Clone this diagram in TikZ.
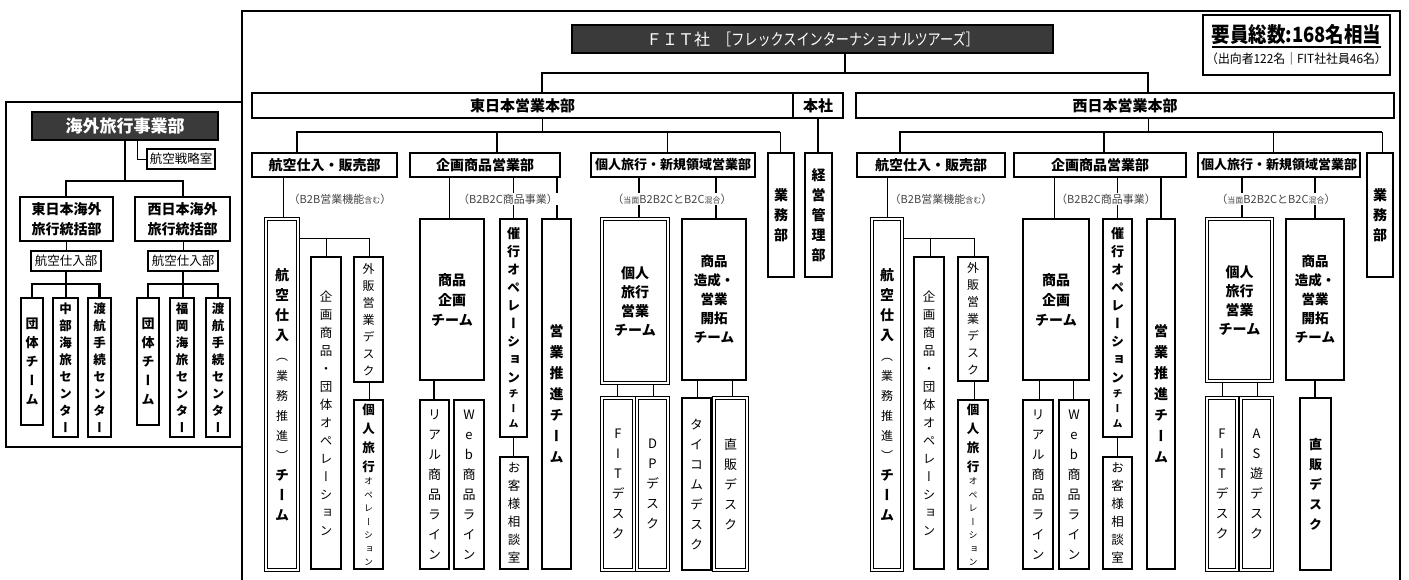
\documentclass[tikz,border=0pt]{standalone}
\usepackage{fontspec}
\usepackage{graphicx}
\usetikzlibrary{backgrounds}
\newfontfamily\jp{Noto Sans CJK JP}
\newfontfamily\jpv[RawFeature=+vert]{Noto Sans CJK JP}
\definecolor{dk}{HTML}{3A3A3A}
\definecolor{lb}{HTML}{444444}
\makeatletter
\def\vs@end{\vs@end}
\newcommand\vsx[1]{\vs@loop#1\vs@end}
\def\vs@loop#1{\ifx\vs@end#1\else\hbox to 0pt{\hss#1\hss}\expandafter\vs@loop\fi}
\makeatother
\newcommand\VB[3]{\vbox{\jpv\bfseries\fontsize{#1}{#2}\selectfont\vsx{#3}}}
\newcommand\VR[3]{\vbox{\jpv\mdseries\fontsize{#1}{#2}\selectfont\vsx{#3}}}
\newcommand\obox[6][]{\pgfmathsetmacro\obw{#4-#2}\pgfmathsetmacro\obh{#5-#3}\pgfmathsetmacro\obx{(#2+#4)/2}\pgfmathsetmacro\oby{(#3+#5)/2}\node[#1, minimum width=\obw pt, minimum height=\obh pt] (#6) at (\obx,\oby)}
\begin{document}
\begin{tikzpicture}[x=1pt,y=-1pt,
 box/.style={draw, line width=2.4pt, fill=white, inner sep=0pt},
 tb/.style={draw, line width=1.6pt, fill=white, inner sep=0pt},
 tbk/.style={draw, line width=2.6pt, fill=white, inner sep=0pt},
 dbx/.style={draw, line width=0.9pt, double=white, double distance=1.5pt, fill=white, inner sep=0pt},
 dark/.style={draw, line width=2.6pt, fill=dk, text=white, inner sep=0pt},
 cT/.style={line width=2.6pt},
 cM/.style={line width=1.8pt},
 cN/.style={line width=1pt},
 h15/.style={font=\jp\bfseries\fontsize{15}{18}\selectfont},
 h14/.style={font=\jp\bfseries\fontsize{14}{20}\selectfont, align=center},
 h13/.style={font=\jp\bfseries\fontsize{13}{16}\selectfont},
 r12/.style={font=\jp\fontsize{12.5}{15}\selectfont},
 lbl/.style={fill=white, inner sep=1pt, text=lb, font=\jp\fontsize{11}{13}\selectfont}]
\useasboundingbox (0,0) rectangle (1409,579);
% frames
\draw[line width=2.4pt] (242,600) -- (242,11) -- (1400,11) -- (1400,600);
\draw[line width=2.4pt] (6,102) rectangle (242,447);

% ---- top
\obox[dark]{572}{25}{1053}{53}{fit} {\jp\fontsize{16}{18}\selectfont ＦＩＴ社\hspace{8pt}\scalebox{0.82}[1]{［フレックスインターナショナルツアーズ］}};
\obox[box, align=center]{1203}{15}{1390}{75}{staff} {{\jp\bfseries\fontsize{21}{24}\selectfont\scalebox{0.88}[1]{\vtop{\hbox{要員総数:168名相当}\kern1pt\hrule height 1.8pt}}}\\[4pt]{\jp\fontsize{12.5}{14}\selectfont\scalebox{0.95}[1]{（出向者122名｜FIT社社員46名）}}};

% ---- row 1
\obox[box, h15]{252}{93}{793}{118}{east} {東日本営業本部};
\obox[box, h15]{793}{93}{843}{118}{hq} {本社};
\obox[box, h15]{856}{93}{1394}{118}{west} {西日本営業本部};

% ---- row 2 east
\obox[box, h14]{252}{153}{397}{177}{ekb} {航空仕入・販売部};
\obox[box, h14]{410}{153}{560}{177}{ekk} {企画商品営業部};
\obox[box, h13]{591}{153}{755}{177}{eko} {個人旅行・新規領域営業部};
\obox[box]{768}{153}{794}{277}{egy} {\VB{14}{20}{業務部}};
\obox[box]{805}{153}{832}{277}{ekm} {\VB{14}{20}{経営管理部}};
% ---- row 2 west
\obox[box, h14]{857}{153}{1005}{177}{wkb} {航空仕入・販売部};
\obox[box, h14]{1014}{153}{1186}{177}{wkk} {企画商品営業部};
\obox[box, h13]{1198}{153}{1360}{177}{wko} {個人旅行・新規領域営業部};
\obox[box]{1367}{153}{1393}{277}{wgy} {\VB{14}{20}{業務部}};

% ---- labels
\node[lbl] (el1) at (340,199) {（B2B営業機能{\fontsize{8}{9}\selectfont 含む}）};
\node[lbl] (el2) at (508,199) {（B2B2C商品事業）};
\node[lbl] (el3) at (672,199) {（{\fontsize{8}{9}\selectfont 当面}B2B2CとB2C{\fontsize{8}{9}\selectfont 混合}）};
\node[lbl] (wl1) at (941,199) {（B2B営業機能{\fontsize{8}{9}\selectfont 含む}）};
\node[lbl] (wl2) at (1106,199) {（B2B2C商品事業）};
\node[lbl] (wl3) at (1276,199) {（{\fontsize{8}{9}\selectfont 当面}B2B2CとB2C{\fontsize{8}{9}\selectfont 混合}）};

% ---- tall boxes east
\obox[dbx]{266}{219}{298}{570}{ekt1} {\vbox{\jpv\bfseries\fontsize{14}{20}\selectfont\vsx{航空仕入}\mdseries\fontsize{12}{20}\selectfont\vsx{（業務推進）}\bfseries\fontsize{14}{20}\selectfont\vsx{チーム}}};
\obox[tb]{311}{257}{341}{569}{ekt2} {\VR{12.5}{18}{企画商品・団体オペレーション}};
\obox[tb]{354}{257}{383}{382}{ekt3} {\VR{12}{17}{外販営業デスク}};
\obox[tb]{354}{400}{383}{569}{ekt4} {\vbox{\jpv\bfseries\fontsize{12.5}{19}\selectfont\vsx{個人旅行}\mdseries\fontsize{9}{13.5}\selectfont\vsx{オペレーション}}};
\obox[tb, h14]{420}{219}{484}{380}{ekt5} {商品\\企画\\チーム};
\obox[tb]{420}{400}{449}{569}{ekt6} {\VR{13}{20}{リアル商品ライン}};
\obox[tb]{454}{400}{484}{569}{ekt7} {\VR{13}{20}{Web商品ライン}};
\obox[tb]{500}{219}{527}{437}{ekt8} {\vbox{\jpv\bfseries\fontsize{13}{18}\selectfont\vsx{催行オペレーション}\fontsize{10}{15}\selectfont\vsx{チーム}}};
\obox[tb]{500}{457}{528}{569}{ekt9} {\VR{12.5}{18}{お客様相談室}};
\obox[tb]{542}{219}{571}{569}{ekt10} {\VB{14}{21}{営業推進チーム}};
\obox[dbx, h14, font=\jp\bfseries\fontsize{14}{19}\selectfont]{602}{219}{668}{383}{ekt11} {個人\\旅行\\営業\\チーム};
\obox[tb, h14, font=\jp\bfseries\fontsize{13.5}{19}\selectfont]{682}{219}{746}{380}{ekt12} {商品\\造成・\\営業\\開拓\\チーム};
\obox[dbx]{602}{398}{634}{570}{ekt13} {\VR{13}{20}{FITデスク}};
\obox[dbx]{637}{398}{668}{570}{ekt14} {\VR{13}{20}{DPデスク}};
\obox[tbk]{682}{398}{711}{570}{ekt15} {\VR{13}{20}{タイコムデスク}};
\obox[dbx]{714}{398}{747}{570}{ekt16} {\VR{13}{20}{直販デスク}};

% ---- tall boxes west
\obox[dbx]{872}{219}{902}{570}{wkt1} {\vbox{\jpv\bfseries\fontsize{14}{20}\selectfont\vsx{航空仕入}\mdseries\fontsize{12}{20}\selectfont\vsx{（業務推進）}\bfseries\fontsize{14}{20}\selectfont\vsx{チーム}}};
\obox[tb]{914}{257}{944}{569}{wkt2} {\VR{12.5}{18}{企画商品・団体オペレーション}};
\obox[tb]{958}{257}{988}{381}{wkt3} {\VR{12}{17}{外販営業デスク}};
\obox[tb]{958}{400}{988}{569}{wkt4} {\vbox{\jpv\bfseries\fontsize{12.5}{19}\selectfont\vsx{個人旅行}\mdseries\fontsize{9}{13.5}\selectfont\vsx{オペレーション}}};
\obox[tb, h14]{1023}{219}{1089}{380}{wkt5} {商品\\企画\\チーム};
\obox[tb]{1023}{400}{1053}{569}{wkt6} {\VR{13}{20}{リアル商品ライン}};
\obox[tb]{1059}{400}{1089}{569}{wkt7} {\VR{13}{20}{Web商品ライン}};
\obox[tb]{1103}{219}{1132}{437}{wkt8} {\vbox{\jpv\bfseries\fontsize{13}{18}\selectfont\vsx{催行オペレーション}\fontsize{10}{15}\selectfont\vsx{チーム}}};
\obox[tb]{1103}{457}{1132}{569}{wkt9} {\VR{12.5}{18}{お客様相談室}};
\obox[tb]{1147}{219}{1175}{569}{wkt10} {\VB{14}{21}{営業推進チーム}};
\obox[dbx, h14, font=\jp\bfseries\fontsize{14}{19}\selectfont]{1207}{219}{1272}{381}{wkt11} {個人\\旅行\\営業\\チーム};
\obox[tb, h14, font=\jp\bfseries\fontsize{13.5}{19}\selectfont]{1286}{219}{1344}{380}{wkt12} {商品\\造成・\\営業\\開拓\\チーム};
\obox[dbx]{1207}{398}{1237}{570}{wkt13} {\VR{13}{20}{FITデスク}};
\obox[dbx]{1241}{398}{1272}{570}{wkt14} {\VR{13}{20}{AS遊デスク}};
\obox[tbk]{1300}{398}{1331}{570}{wkt15} {\VB{13}{20}{直販デスク}};

% ---- left division
\obox[dark, font=\jp\bfseries\fontsize{17}{20}\selectfont]{32}{112}{218}{140}{ovs} {海外旅行事業部};
\obox[box, line width=2pt, r12]{147}{149}{215}{169}{kss} {航空戦略室};
\obox[box, h14]{20}{197}{113}{241}{ehq} {東日本海外\\旅行統括部};
\obox[box, h14]{135}{197}{230}{241}{whq} {西日本海外\\旅行統括部};
\obox[box, line width=2pt, r12]{31}{251}{101}{271}{ekp} {航空仕入部};
\obox[box, line width=2pt, r12]{148}{251}{218}{271}{wkp} {航空仕入部};
\obox[tb, line width=1.2pt]{21}{298}{43}{425}{et1} {\VB{13}{19}{団体チーム}};
\obox[tb, line width=2.2pt]{53}{298}{78}{437}{et2} {\VB{12.5}{17}{中部海旅センター}};
\obox[tb, line width=2.2pt]{88}{298}{111}{437}{et3} {\VB{12.5}{17}{渡航手続センター}};
\obox[tb, line width=1.2pt]{137}{298}{159}{425}{wt1} {\VB{13}{19}{団体チーム}};
\obox[tbk]{170}{298}{194}{437}{wt2} {\VB{12.5}{17}{福岡海旅センター}};
\obox[tb, line width=2.2pt]{206}{298}{230}{437}{wt3} {\VB{12.5}{17}{渡航手続センター}};

% ---- connectors
\begin{pgfonlayer}{background}
\coordinate (fj) at (845,73);
\draw[cT] (fit.south -| fj) -- (fj);
\draw[cT] (east.north -| 542,0) |- (fj) -| (west.north -| 1148,0);
\draw[cN] (east.south -| 542,0) -- (542,132);
\draw[cT] (ekb.north -| 297,0) -- (297,132) -- (780,132);
\draw[cT] (497,132) -- (ekk.north -| 497,0);
\draw[cN] (667,132) -- (eko.north -| 667,0);
\draw[cN] (780,132) -- (egy.north -| 780,0);
\draw[cM] (hq.south -| 818,0) -- (ekm.north -| 818,0);
\draw[cN] (west.south -| 1148,0) -- (1148,132);
\draw[cT] (wkb.north -| 900,0) -- (900,132) -- (1382,132);
\draw[cT] (1104,132) -- (wkk.north -| 1104,0);
\draw[cN] (1273,132) -- (wko.north -| 1273,0);
\draw[cN] (1382,132) -- (wgy.north -| 1382,0);
% east subs
\draw[cN] (ekb.south -| 283,0) -- (ekt1.north -| 283,0);
\draw[cN] (ekt1.east |- 0,238) -| (ekt3.north -| 369,0);
\draw[cN] (326,238) -- (ekt2.north -| 326,0);
\draw[cN] (ekt3.south -| 369,0) -- (ekt4.north -| 369,0);
\draw[cN] (ekk.south -| 449,0) -- (ekt5.north -| 449,0);
\draw[cN] (ekk.south -| 513,0) -- (ekt8.north -| 513,0);
\draw[cT] (ekk.south -| 557,0) -- (ekt10.north -| 557,0);
\draw[cT] (ekt5.south -| 434,0) -- (ekt6.north -| 434,0);
\draw[cN] (ekt8.south -| 513,0) -- (ekt9.north -| 513,0);
\draw[cT] (eko.south -| 639,0) -- (ekt11.north -| 639,0);
\draw[cT] (eko.south -| 716,0) -- (ekt12.north -| 716,0);
\draw[cN] (ekt11.south -| 617,0) -- (ekt13.north -| 617,0);
\draw[cN] (ekt11.south -| 653,0) -- (ekt14.north -| 653,0);
\draw[cN] (ekt12.south -| 697,0) -- (ekt15.north -| 697,0);
\draw[cN] (ekt12.south -| 732,0) -- (ekt16.north -| 732,0);
% west subs
\draw[cN] (wkb.south -| 887,0) -- (wkt1.north -| 887,0);
\draw[cN] (wkt1.east |- 0,238) -| (wkt3.north -| 974,0);
\draw[cN] (930,238) -- (wkt2.north -| 930,0);
\draw[cN] (wkt3.south -| 974,0) -- (wkt4.north -| 974,0);
\draw[cN] (wkk.south -| 1054,0) -- (wkt5.north -| 1054,0);
\draw[cN] (wkk.south -| 1117,0) -- (wkt8.north -| 1117,0);
\draw[cT] (wkk.south -| 1161,0) -- (wkt10.north -| 1161,0);
\draw[cN] (wkt5.south -| 1039,0) -- (wkt6.north -| 1039,0);
\draw[cN] (wkt5.south -| 1073,0) -- (wkt7.north -| 1073,0);
\draw[cN] (wkt8.south -| 1117,0) -- (wkt9.north -| 1117,0);
\draw[cT] (wko.south -| 1242,0) -- (wkt11.north -| 1242,0);
\draw[cT] (wko.south -| 1315,0) -- (wkt12.north -| 1315,0);
\draw[cN] (wkt11.south -| 1222,0) -- (wkt13.north -| 1222,0);
\draw[cN] (wkt11.south -| 1257,0) -- (wkt14.north -| 1257,0);
\draw[cT] (wkt12.south -| 1315,0) -- (wkt15.north -| 1315,0);
% left division
\draw[cT] (ovs.south -| 125,0) -- (125,181);
\draw[cT] (ehq.north -| 66,0) |- (125,181) -| (whq.north -| 183,0);
\draw[cN] (ovs.south -| 137,0) |- (kss.west);
\draw[cN] (ehq.south -| 66,0) -- (ekp.north -| 66,0);
\draw[cN] (whq.south -| 183,0) -- (wkp.north -| 183,0);
\draw[cT] (ekp.south -| 66,0) -- (66,284);
\draw[cT] (et1.north -| 32,0) -- (32,284) -- (99.5,284) -- (et3.north -| 99.5,0);
\draw[cT] (66,284) -- (et2.north -| 66,0);
\draw[cT] (wkp.south -| 183,0) -- (183,284);
\draw[cT] (wt1.north -| 148,0) -- (148,284) -- (218,284) -- (wt3.north -| 218,0);
\draw[cT] (183,284) -- (wt2.north -| 183,0);
\end{pgfonlayer}
\end{tikzpicture}
\end{document}
